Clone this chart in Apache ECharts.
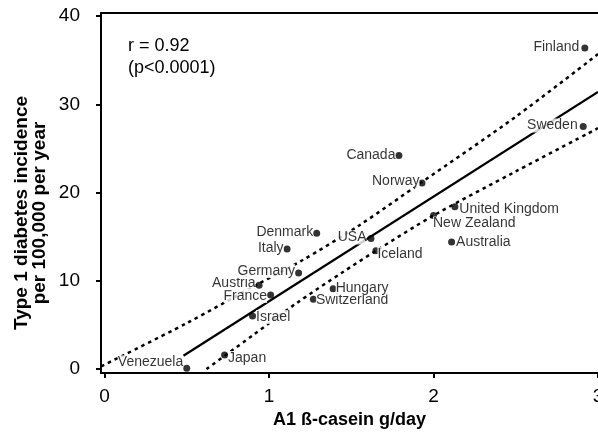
<!DOCTYPE html>
<html>
<head>
<meta charset="utf-8">
<script src="https://cdn.jsdelivr.net/npm/echarts@6/dist/echarts.min.js"></script>
<style>
html,body{margin:0;padding:0;background:#fff;}
#chart{width:598px;height:435px;}
</style>
</head>
<body>
<div id="chart"></div>
<script>
// ---- data ----
const countries = ['Venezuela','Japan','Israel','France','Austria','Germany','Italy','Denmark','Switzerland','Hungary','USA','Iceland','United Kingdom','New Zealand','Australia','Canada','Norway','Sweden','Finland'];
const a1Casein   = [0.50, 0.73, 0.90, 1.01, 0.94, 1.18, 1.11, 1.29, 1.27, 1.39, 1.62, 1.65, 2.13, 2.00, 2.11, 1.79, 1.93, 2.91, 2.92];
const incidence  = [0.1, 1.6, 6.0, 8.4, 9.5, 10.9, 13.6, 15.4, 7.9, 9.1, 14.8, 13.4, 18.4, 17.4, 14.4, 24.2, 21.1, 27.5, 36.4];

const fitX = [0.48, 3.0];
const fitY = [1.5, 31.4];
const upperX = [-0.02, 0.5, 0.94, 1.2, 1.55, 1.93, 2.5, 3.0];
const upperY = [0.3, 5.2, 9.7, 12.3, 16.3, 21.2, 28.6, 35.7];
const lowerX = [0.62, 0.9, 1.17, 1.45, 1.65, 2.0, 2.5, 3.0];
const lowerY = [0.0, 3.8, 7.5, 11.0, 13.4, 17.4, 22.4, 27.3];

const xTicks = [0, 1, 2, 3];
const yTicks = [0, 10, 20, 30, 40];
const xTitle = 'A1 ß-casein g/day';
const yTitle = ['Type 1 diabetes incidence', 'per 100,000 per year'];
const statText = ['r = 0.92', '(p<0.0001)'];

// ---- label placement (layout only) ----
const placement = {
  'Venezuela': ['left', [2, -6]],
  'Japan': ['right', [-2, 3]],
  'Israel': ['right', [-2, 1]],
  'France': ['left', [2, 1]],
  'Austria': ['left', [2, -2]],
  'Germany': ['left', [2, -2]],
  'Italy': ['left', [2, -1]],
  'Denmark': ['left', [2, -1]],
  'Switzerland': ['right', [-3, 1]],
  'Hungary': ['right', [-3, -1]],
  'USA': ['left', [1, -1]],
  'Iceland': ['right', [-4, 3]],
  'United Kingdom': ['right', [-1, 2]],
  'New Zealand': ['right', [-6, 8]],
  'Australia': ['right', [-1, 0]],
  'Canada': ['left', [2, 0]],
  'Norway': ['left', [3, -2]],
  'Sweden': ['left', [0, -1]],
  'Finland': ['left', [0, -1]]
};

const FONT = '"Liberation Sans", Arial, Helvetica, sans-serif';
const xMin = -0.021, xMax = 3.0, yMin = -0.45, yMax = 40.36;

const pairs = (xs, ys) => xs.map((x, i) => [x, ys[i]]);

const scatterData = countries.map((name, i) => {
  const p = placement[name];
  return {
    name: name,
    value: [a1Casein[i], incidence[i]],
    label: { position: p[0], offset: p[1] }
  };
});

const axisLineStyle = { color: '#000', width: 2 };

const option = {
  animation: false,
  backgroundColor: '#fff',
  grid: { left: 101, right: 0, top: 13, bottom: 62, containLabel: false, outerBoundsMode: 'none' },
  xAxis: [{
    type: 'value', min: xMin, max: xMax,
    axisLine: { show: true, onZero: false, lineStyle: axisLineStyle },
    axisTick: { show: true, length: 5, lineStyle: axisLineStyle, customValues: xTicks },
    axisLabel: { customValues: xTicks, fontSize: 19, color: '#000', margin: 14, fontFamily: FONT },
    splitLine: { show: false },
    name: xTitle, nameLocation: 'middle', nameGap: 37,
    nameTextStyle: { fontSize: 18, fontWeight: 'bold', color: '#000', fontFamily: FONT }
  }, {
    type: 'value', min: xMin, max: xMax, position: 'top',
    axisLine: { show: true, onZero: false, lineStyle: axisLineStyle },
    axisTick: { show: false }, axisLabel: { show: false }, splitLine: { show: false }
  }],
  yAxis: [{
    type: 'value', min: yMin, max: yMax,
    axisLine: { show: true, onZero: false, lineStyle: axisLineStyle },
    axisTick: { show: true, length: 5, lineStyle: axisLineStyle, customValues: yTicks },
    axisLabel: { customValues: yTicks, fontSize: 19, color: '#000', margin: 21, fontFamily: FONT },
    splitLine: { show: false }
  }],
  graphic: [{
    type: 'text', left: 128, top: 35,
    style: { text: statText.join('\n'), font: '18px ' + FONT, lineHeight: 22, fill: '#000' }
  }, {
    type: 'text', x: 31, y: 213, rotation: Math.PI / 2,
    style: { text: yTitle.join('\n'), font: 'bold 19px ' + FONT, lineHeight: 18.5, fill: '#000', align: 'center', verticalAlign: 'middle' }
  }],
  series: [{
    type: 'line', data: pairs(fitX, fitY), showSymbol: false, z: 2,
    lineStyle: { color: '#000', width: 2.2 }
  }, {
    type: 'line', data: pairs(upperX, upperY), showSymbol: false, smooth: 0.3, z: 2,
    lineStyle: { color: '#000', width: 2.5, type: [3.5, 4] }
  }, {
    type: 'line', data: pairs(lowerX, lowerY), showSymbol: false, smooth: 0.3, z: 2,
    lineStyle: { color: '#000', width: 2.5, type: [3.5, 4] }
  }, {
    type: 'scatter', data: scatterData, symbol: 'circle', symbolSize: 7, z: 5,
    itemStyle: { color: '#000' },
    label: {
      show: true, formatter: '{b}', fontSize: 14, color: '#000', fontFamily: FONT,
      distance: 2, backgroundColor: '#fff', padding: [0, 0, 0, 0]
    }
  }]
};

const chart = echarts.init(document.getElementById('chart'), null, { renderer: 'canvas' });
chart.setOption(option);
</script>
</body>
</html>
